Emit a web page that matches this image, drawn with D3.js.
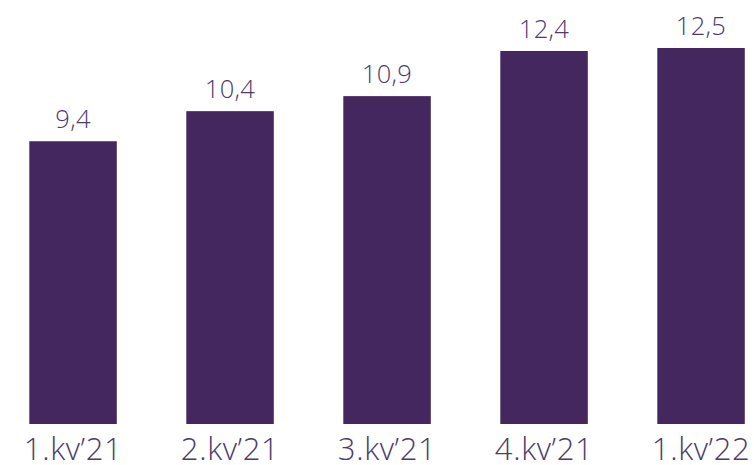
<!DOCTYPE html>
<html><head><meta charset="utf-8">
<script src="https://cdn.jsdelivr.net/npm/d3@7"></script>
<style>body{margin:0;background:#fff;}svg{display:block;}</style>
</head><body><svg id="c" width="754" height="465"></svg>
<script>
const categories = ["1.kv’21","2.kv’21","3.kv’21","4.kv’21","1.kv’22"];
const values = [9.4, 10.4, 10.9, 12.4, 12.5];
const valueLabels = ["9,4","10,4","10,9","12,4","12,5"];

const svg = d3.select("#c");
const x = d3.scaleBand().domain(categories).range([29.3, 744.8]).paddingInner(0.4427).paddingOuter(0);
const y = d3.scaleLinear().domain([0, 12.5]).range([424, 48]);
const barColor = "#43275e", textColor = "#4d3b6c";

svg.selectAll("rect.bar").data(values).join("rect")
  .attr("x", (d,i)=>x(categories[i])).attr("width", x.bandwidth())
  .attr("y", d=>y(d)).attr("height", d=>y(0)-y(d)).attr("fill", barColor);

svg.selectAll("text.val").data(values).join("text")
  .attr("x", (d,i)=>x(categories[i])+x.bandwidth()/2).attr("y", d=>y(d)-13)
  .attr("text-anchor","middle").attr("font-family","Open Sans").attr("font-weight",300)
  .attr("font-size",25.5).attr("letter-spacing",0.3).attr("fill",textColor).text((d,i)=>valueLabels[i]);

const axis = d3.axisBottom(x).tickSize(0).tickPadding(0);
const g = svg.append("g").attr("transform","translate(0,460)").call(axis);
g.select(".domain").remove();
g.selectAll("text").attr("dy",0).attr("font-family","Open Sans").attr("font-weight",300)
  .attr("font-size",31).attr("letter-spacing",0.6).attr("fill",textColor);
</script></body></html>
